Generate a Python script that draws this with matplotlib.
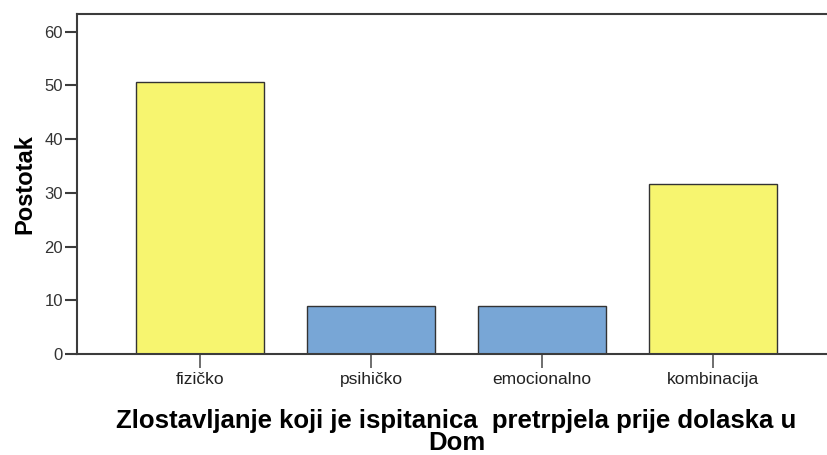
import matplotlib
matplotlib.use("Agg")
import matplotlib.pyplot as plt

# data
categories = ["fizičko", "psihičko", "emocionalno", "kombinacija"]
postotak = [50.7, 8.9, 8.9, 31.6]
bar_colors = ["#F7F56F", "#78A6D6", "#78A6D6", "#F7F56F"]

plt.rcParams["font.family"] = ["Liberation Sans", "DejaVu Sans"]

fig = plt.figure(figsize=(8.27, 4.55), dpi=100)
ax = fig.add_axes([77 / 827, 1 - 354 / 455, (836 - 77) / 827, (354 - 14) / 455])

x = range(len(categories))
ax.bar(x, postotak, width=0.75, color=bar_colors, edgecolor="#333333", linewidth=1.0)

ax.set_xlim(-0.72, 3.72)
ax.set_ylim(0, 63.3)
ax.set_yticks([0, 10, 20, 30, 40, 50, 60])
ax.set_xticks(list(x))
ax.set_xticklabels(categories)

for s in ["left", "top", "bottom"]:
    ax.spines[s].set_color("#3c3c3c")
    ax.spines[s].set_linewidth(1.5)
ax.spines["right"].set_visible(False)

ax.tick_params(axis="y", length=9, width=1.5, color="#3c3c3c", labelsize=12,
               labelcolor="#333333", pad=1)
ax.tick_params(axis="x", length=10, width=1.2, color="#555555", labelsize=12.5,
               labelcolor="#222222", pad=3)

ax.set_ylabel("Postotak", fontsize=17, fontweight="bold", labelpad=6)
ax.set_xlabel("Zlostavljanje koji je ispitanica  pretrpjela prije dolaska u\nDom",
              fontsize=18.5, fontweight="bold", labelpad=16, linespacing=0.9)

fig.savefig("out.png", dpi=100)
